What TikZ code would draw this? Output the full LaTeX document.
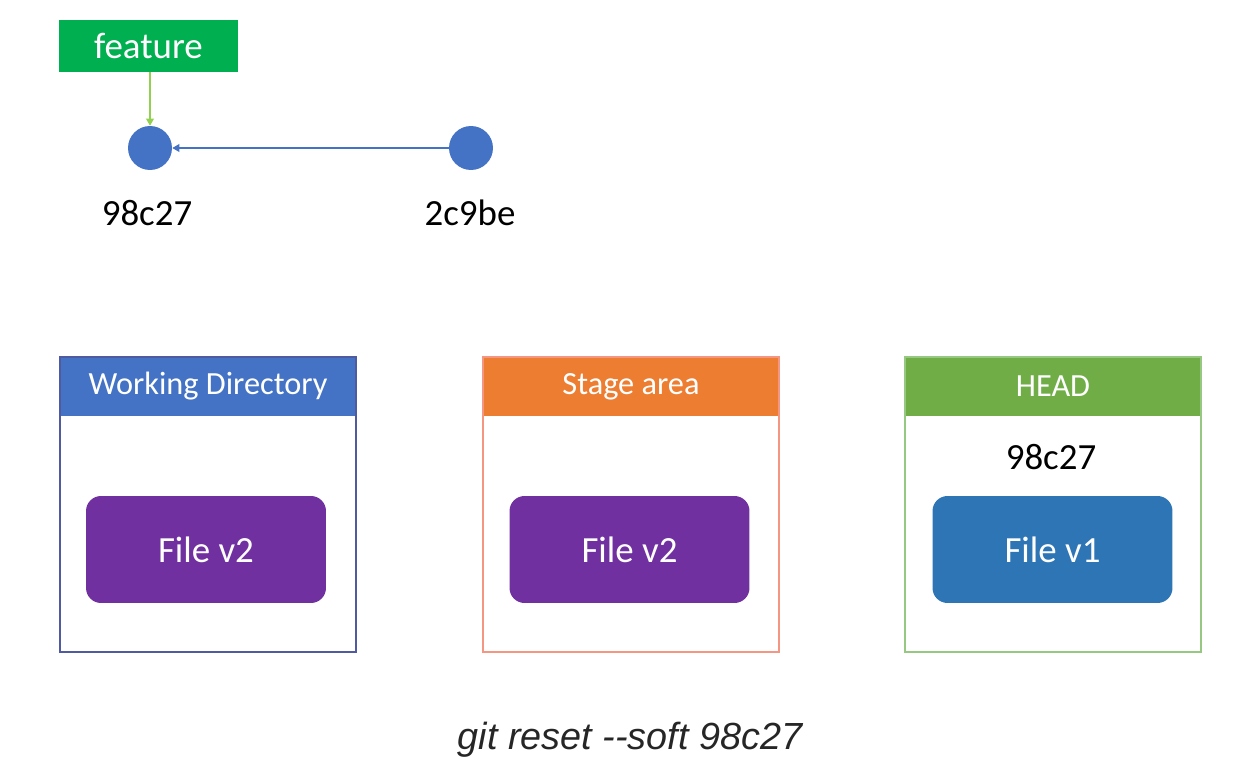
\documentclass[tikz,border=0pt]{standalone}
\usepackage{fontspec}
\setmainfont{Carlito}
\newfontfamily\helv{Liberation Sans}
\usetikzlibrary{arrows.meta}
\definecolor{featgreen}{RGB}{0,176,80}
\definecolor{lightgreen}{RGB}{146,208,80}
\definecolor{commitblue}{RGB}{68,114,196}
\definecolor{wdblue}{RGB}{68,114,196}
\definecolor{wdborder}{RGB}{80,90,160}
\definecolor{stageorange}{RGB}{237,125,49}
\definecolor{stageborder}{RGB}{244,150,130}
\definecolor{headgreen}{RGB}{112,173,71}
\definecolor{headborder}{RGB}{150,200,130}
\definecolor{filepurple}{RGB}{112,48,160}
\definecolor{fileblue}{RGB}{46,117,182}
\begin{document}
\begin{tikzpicture}[x=0.02cm,y=-0.02cm,
  commit/.style={circle, fill=commitblue, minimum size=0.88cm, inner sep=0},
  commitlabel/.style={font=\fontsize{21}{25}\selectfont, text=black},
  outerbox/.style={draw, line width=0.8pt, minimum width=5.92cm, minimum height=5.9cm, inner sep=0},
  header/.style={minimum width=5.92cm, minimum height=1.18cm, inner sep=0, text=white, font=\fontsize{18.4}{22}\selectfont},
  filebox/.style={rounded corners=0.3cm, minimum width=4.8cm, minimum height=2.14cm, inner sep=0, text=white, font=\fontsize{21}{25}\selectfont},
  tip/.style={-{Triangle[width=4.5pt,length=4pt]}, line width=0.6pt}
]
\useasboundingbox (0,0) rectangle (1242,774);

% branch label and commits
\node[fill=featgreen, minimum width=3.58cm, minimum height=1.04cm, inner sep=0, text=white, font=\fontsize{21}{25}\selectfont] (feature) at (148.5,46) {feature};
\node[commit] (c1) at (150,148) {};
\node[commit] (c2) at (471,148) {};
\node[commitlabel] (l1) at (147,213) {98c27};
\node[commitlabel] (l2) at (470,213) {2c9be};
\draw[tip, lightgreen] (feature.south -| c1.north) -- (c1.north);
\draw[tip, commitblue] (c2) -- (c1);

% Working Directory
\node[header, fill=wdblue] (wdh) at (208,386.5) {Working Directory};
\node[outerbox, draw=wdborder] (wd) at (208,504.5) {};
\node[filebox, fill=filepurple] (wdf) at (206,549.5) {File v2};

% Stage area
\node[header, fill=stageorange] (sah) at (631,386.5) {Stage area};
\node[outerbox, draw=stageborder] (sa) at (631,504.5) {};
\node[filebox, fill=filepurple] (saf) at (629.5,549.5) {File v2};

% HEAD
\node[header, fill=headgreen] (hdh) at (1053,386.5) {HEAD};
\node[outerbox, draw=headborder] (hd) at (1053,504.5) {};
\node[commitlabel] (hdc) at (1051,457) {98c27};
\node[filebox, fill=fileblue] (hdf) at (1052.5,549.5) {File v1};

% command
\node[font=\helv\itshape\fontsize{21.5}{26}\selectfont, text=black!85] (cmd) at (630,740) {git reset -{}-soft 98c27};
\end{tikzpicture}
\end{document}
